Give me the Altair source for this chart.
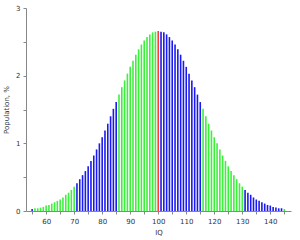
import altair as alt
import pandas as pd

# IQ scores (one bar per integer score)
iq = list(range(55, 146))

# Population share (%), left half 55..100 then right half 101..145
left_pct = [0.03, 0.04, 0.04, 0.05, 0.06, 0.08, 0.09, 0.11, 0.13, 0.15,
            0.17, 0.20, 0.24, 0.27, 0.31, 0.36, 0.41, 0.47, 0.53, 0.59,
            0.66, 0.74, 0.82, 0.91, 1.00, 1.09, 1.19, 1.29, 1.40, 1.51,
            1.61, 1.72, 1.83, 1.93, 2.03, 2.13, 2.22, 2.31, 2.39, 2.46,
            2.52, 2.57, 2.61, 2.64, 2.65, 2.66]
right_pct = [2.65, 2.64, 2.61, 2.57, 2.52, 2.46, 2.39, 2.31, 2.22, 2.13,
             2.03, 1.93, 1.83, 1.72, 1.61, 1.51, 1.40, 1.29, 1.19, 1.09,
             1.00, 0.91, 0.82, 0.74, 0.66, 0.59, 0.53, 0.47, 0.41, 0.36,
             0.31, 0.27, 0.24, 0.20, 0.17, 0.15, 0.13, 0.11, 0.09, 0.08,
             0.06, 0.05, 0.04, 0.04, 0.03]
pct = left_pct + right_pct

# Colour band of each bar
band = (["b"] * 1 + ["g"] * 15 + ["b"] * 15 + ["g"] * 14 + ["r"] * 1 +
        ["b"] * 15 + ["g"] * 15 + ["b"] * 14 + ["g"] * 1)

band_names = ["b", "g", "r"]
band_colors = ["#1a1af0", "#3cf03c", "#ff3b3b"]

x_ticks = list(range(55, 146, 5))
y_ticks = [0, 0.5, 1, 1.5, 2, 2.5, 3]

df = pd.DataFrame({"IQ": iq, "pct": pct, "band": band})

chart = alt.Chart(df).mark_bar(size=1.6).encode(
    x=alt.X("IQ:Q",
            scale=alt.Scale(domain=[54.6, 145.6], nice=False, zero=False),
            axis=alt.Axis(values=x_ticks, title="IQ", format="d",
                          labelExpr="datum.value % 10 == 0 ? datum.label : ''")),
    y=alt.Y("pct:Q",
            scale=alt.Scale(domain=[0, 3], nice=False),
            axis=alt.Axis(values=y_ticks, title="Population, %", format=".0f",
                          labelExpr="datum.value % 1 == 0 ? datum.label : ''")),
    color=alt.Color("band:N", scale=alt.Scale(domain=band_names, range=band_colors),
                    legend=None),
).properties(
    width=265, height=203,
    autosize=alt.AutoSizeParams(type="none"),
    padding={"left": 26, "top": 8, "right": 9, "bottom": 29},
).configure_view(stroke=None).configure_axis(
    grid=False,
    domainColor="#888888",
    tickColor="#888888",
    tickSize=3,
    labelFont="DejaVu Sans",
    labelFontSize=7,
    labelColor="#333333",
    titleFont="DejaVu Sans",
    titleFontSize=7,
    titleFontWeight="normal",
    titleColor="#333333",
    labelPadding=3,
).configure_axisY(titlePadding=6).configure_axisX(titlePadding=4)

chart.save("out.html", embed_options={"renderer": "svg", "actions": False})
